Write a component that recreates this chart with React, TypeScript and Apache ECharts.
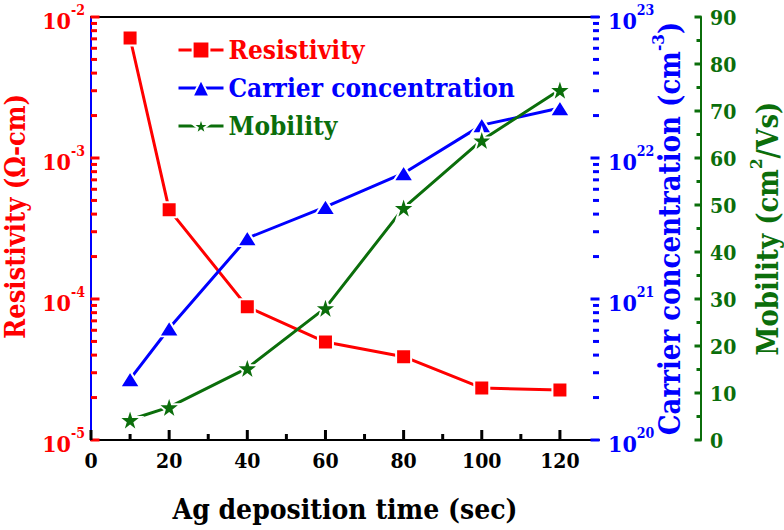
import React, { useEffect, useRef } from 'react';
import * as echarts from 'echarts';

const times = [10, 20, 40, 60, 80, 100, 120];
const resistivity = [7.1e-3, 4.3e-4, 8.8e-5, 4.95e-5, 3.9e-5, 2.34e-5, 2.26e-5];
const carrier = [2.7e20, 6.2e20, 2.7e21, 4.5e21, 7.8e21, 1.71e22, 2.26e22];
const mobility = [4.3, 7.0, 15.3, 28.1, 49.4, 63.8, 74.5];
const xMajorTicks = [0, 20, 40, 60, 80, 100, 120];
const xMinorTicks = [10, 30, 50, 70, 90, 110];
const resDecades = [-5, -4, -3, -2];
const carDecades = [20, 21, 22, 23];
const minorMantissas = [2, 3, 4, 5, 6, 7, 8, 9];
const greenMajor = [0, 10, 20, 30, 40, 50, 60, 70, 80, 90];
const greenMinor = [5, 15, 25, 35, 45, 55, 65, 75, 85];

const RED = '#ff0000';
const BLUE = '#0000ff';
const GREEN = '#0b6e0b';
const FONT = 'DejaVu Serif Condensed';
const STAR = 'path://M50,0 L61.8,35.1 L98.9,35.1 L68.9,56.9 L80.2,92.1 L50,70.3 L19.8,92.1 L31.1,56.9 L1.1,35.1 L38.2,35.1 Z';
const TW = 3; // tick thickness
const GREEN_OFFSET = 102;
const GRID = { left: 91, right: 185, top: 17, bottom: 90 };
const PLOT_W = 784 - GRID.left - GRID.right;
const PLOT_H = 530 - GRID.top - GRID.bottom;

const minorValues = (decades: number[]) => {
  const out: number[] = [];
  for (let i = 0; i < decades.length - 1; i++) {
    for (const m of minorMantissas) out.push(m * Math.pow(10, decades[i]));
  }
  return out;
};
const majorValues = (decades: number[]) => decades.map((d) => Math.pow(10, d));

const logLabel = (v: number) => `{b|10}{s|${Math.round(Math.log10(v))}}`;
const logRich = (color: string) => ({
  b: { fontSize: 23, fontWeight: 'bold', color, fontFamily: FONT, padding: [6, 0, 0, 0] },
  s: { fontSize: 14, fontWeight: 'bold', color, fontFamily: FONT, verticalAlign: 'top' },
});

export default function App() {
  const ref = useRef<HTMLDivElement>(null);
  useEffect(() => {
    if (!ref.current) return;
    const chart = echarts.init(ref.current, undefined, { renderer: 'svg' });
    const tickSeries = (name: string, vals: number[][], yIdx: number, size: number[], offset: number[], color: string) => ({
      name,
      type: 'scatter',
      xAxisIndex: 0,
      yAxisIndex: yIdx,
      silent: true,
      clip: false,
      z: 6,
      symbol: 'rect',
      symbolSize: size,
      symbolOffset: offset,
      itemStyle: { color, opacity: 1 },
      data: vals,
    });
    chart.setOption({
      animation: false,
      backgroundColor: '#fff',
      textStyle: { fontFamily: FONT },
      grid: { ...GRID, containLabel: false, outerBoundsMode: 'none' },
      legend: {
        orient: 'vertical',
        left: 172,
        top: 29,
        itemWidth: 45,
        itemHeight: 21,
        itemGap: 6,
        lineStyle: { width: 3 },
        textStyle: { fontSize: 26, fontWeight: 'bold', fontFamily: FONT, lineHeight: 32 },
        data: [
          { name: 'Resistivity', textStyle: { color: RED } },
          { name: 'Carrier concentration', textStyle: { color: BLUE } },
          { name: 'Mobility', textStyle: { color: GREEN } },
        ],
      },
      xAxis: [
        {
          type: 'value',
          min: 0,
          max: 130,
          interval: 10,
          name: 'Ag deposition time (sec)',
          nameLocation: 'middle',
          nameGap: 55,
          nameTextStyle: { fontSize: 28, fontWeight: 'bold', color: '#000', fontFamily: FONT },
          axisLine: { show: true, lineStyle: { color: '#000', width: 2 } },
          axisTick: { show: false },
          axisLabel: {
            margin: 10,
            fontSize: 21,
            fontWeight: 'bold',
            color: '#000',
            fontFamily: FONT,
            formatter: (v: number) => (xMajorTicks.indexOf(v) >= 0 ? String(v) : ''),
          },
          splitLine: { show: false },
        },
        {
          type: 'value',
          position: 'top',
          min: 0,
          max: 130,
          axisLine: { show: true, lineStyle: { color: '#000', width: 2 } },
          axisTick: { show: false },
          axisLabel: { show: false },
          splitLine: { show: false },
        },
      ],
      yAxis: [
        {
          type: 'log',
          logBase: 10,
          min: 1e-5,
          max: 1e-2,
          position: 'left',
          name: 'Resistivity (Ω-cm)',
          nameLocation: 'middle',
          nameGap: 62,
          nameMoveOverlap: false,
          nameTextStyle: { fontSize: 27, fontWeight: 'bold', color: RED, fontFamily: FONT, padding: [0, 0, 0, 24] },
          axisLine: { show: true, lineStyle: { color: RED, width: 2 } },
          axisTick: { show: false },
          axisLabel: { margin: 6, formatter: logLabel, rich: logRich(RED) },
          splitLine: { show: false },
        },
        {
          type: 'log',
          logBase: 10,
          min: 1e20,
          max: 1e23,
          position: 'right',
          name: '{a|Carrier concentration (cm}{s|-3}{a|)}',
          nameLocation: 'middle',
          nameGap: 50,
          nameMoveOverlap: false,
          nameTextStyle: {
            rich: {
              a: { fontSize: 29, fontWeight: 'bold', color: BLUE, fontFamily: FONT, padding: [6, 0, 0, 0] },
              s: { fontSize: 17, fontWeight: 'bold', color: BLUE, fontFamily: FONT, verticalAlign: 'top' },
            },
          },
          axisLine: { show: true, lineStyle: { color: BLUE, width: 2 } },
          axisTick: { show: false },
          axisLabel: { margin: 9, formatter: logLabel, rich: logRich(BLUE) },
          splitLine: { show: false },
        },
        {
          type: 'value',
          min: 0,
          max: 90,
          interval: 10,
          position: 'right',
          offset: GREEN_OFFSET,
          name: '{a|Mobility (cm}{s|2}{a|/Vs)}',
          nameLocation: 'middle',
          nameGap: 46,
          nameMoveOverlap: false,
          nameTextStyle: {
            rich: {
              a: { fontSize: 29, fontWeight: 'bold', color: GREEN, fontFamily: FONT, padding: [6, 0, 0, 0] },
              s: { fontSize: 17, fontWeight: 'bold', color: GREEN, fontFamily: FONT, verticalAlign: 'top' },
            },
          },
          axisLine: { show: true, lineStyle: { color: GREEN, width: 2 } },
          axisTick: { show: false },
          axisLabel: { margin: 9, fontSize: 21, fontWeight: 'bold', color: GREEN, fontFamily: FONT },
          splitLine: { show: false },
        },
      ],
      series: [
        {
          name: 'Resistivity',
          type: 'line',
          xAxisIndex: 0,
          yAxisIndex: 0,
          data: times.map((t, i) => [t, resistivity[i]]),
          symbol: 'rect',
          symbolSize: 15,
          lineStyle: { color: RED, width: 3 },
          itemStyle: { color: RED, borderColor: '#fff', borderWidth: 2 },
          z: 3,
        },
        {
          name: 'Carrier concentration',
          type: 'line',
          xAxisIndex: 0,
          yAxisIndex: 1,
          data: times.map((t, i) => [t, carrier[i]]),
          symbol: 'triangle',
          symbolSize: [20, 16],
          lineStyle: { color: BLUE, width: 3 },
          itemStyle: { color: BLUE, borderColor: '#fff', borderWidth: 2 },
          z: 4,
        },
        {
          name: 'Mobility',
          type: 'line',
          xAxisIndex: 0,
          yAxisIndex: 2,
          data: times.map((t, i) => [t, mobility[i]]),
          symbol: STAR,
          symbolSize: 23,
          lineStyle: { color: GREEN, width: 3 },
          itemStyle: { color: GREEN, borderColor: '#fff', borderWidth: 2 },
          z: 5,
        },
        // axis ticks, placed through the axes' own scales (anchored at the axes' max ends)
        tickSeries('t1', minorValues(resDecades).map((v) => [130, v]), 0, [6, TW], [-PLOT_W + 3, 0], RED),
        tickSeries('t2', majorValues(resDecades).map((v) => [130, v]), 0, [9, TW], [-PLOT_W + 4, 0], RED),
        tickSeries('t3', minorValues(carDecades).map((v) => [130, v]), 1, [6, TW], [-3, 0], BLUE),
        tickSeries('t4', majorValues(carDecades).map((v) => [130, v]), 1, [9, TW], [-4, 0], BLUE),
        tickSeries('t5', greenMinor.map((v) => [130, v]), 2, [5, TW], [GREEN_OFFSET - 2, 0], GREEN),
        tickSeries('t6', greenMajor.map((v) => [130, v]), 2, [7, TW], [GREEN_OFFSET - 3, 0], GREEN),
        tickSeries('t7', xMinorTicks.map((v) => [v, 90]), 2, [TW, 6], [0, PLOT_H - 3], '#000'),
        tickSeries('t8', xMajorTicks.map((v) => [v, 90]), 2, [TW, 10], [0, PLOT_H - 5], '#000'),
      ],
    });
    return () => chart.dispose();
  }, []);
  return <div ref={ref} style={{ position: 'fixed', left: 0, top: 0, width: 784, height: 530 }} />;
}
